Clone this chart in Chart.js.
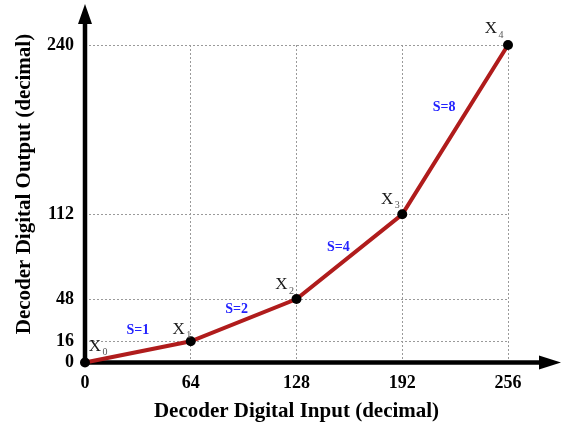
<!DOCTYPE html>
<html><head><meta charset="utf-8">
<script src="https://cdn.jsdelivr.net/npm/chart.js@4/dist/chart.umd.min.js"></script>
<style>html,body{margin:0;padding:0;background:#fff}</style>
</head><body>
<canvas id="c" width="563" height="426"></canvas>
<script>
// ---- data ----
const inputValues = [0, 64, 128, 192, 256];
const outputValues = [0, 16, 48, 112, 240];
const xTickValues = [0, 64, 128, 192, 256];
const yTickValues = [0, 16, 48, 112, 240];
const pointSubscripts = ['0', '1', '2', '3', '4'];
const slopeLabels = ['S=1', 'S=2', 'S=4', 'S=8'];
const xTitle = 'Decoder Digital Input (decimal)';
const yTitle = 'Decoder Digital Output (decimal)';

// ---- styles ----
const SERIF = "'Liberation Serif', 'Times New Roman', serif";
const pointLabelOffsets = [[10, -16], [-12, -12], [-15, -14], [-15, -15], [-17, -16]];
const slopeLabelOffsets = [[0, -22], [-7, -11], [-11, -9], [-11, -22]];

const annotations = {
  id: 'annotations',
  beforeDatasetsDraw(chart) {
    const {ctx} = chart;
    const x0 = chart.scales.x.getPixelForValue(0);
    const y0 = chart.scales.y.getPixelForValue(0);
    ctx.save();
    ctx.strokeStyle = '#000';
    ctx.fillStyle = '#000';
    ctx.lineWidth = 4.5;
    // y axis
    ctx.beginPath(); ctx.moveTo(x0, y0 + 2); ctx.lineTo(x0, 22); ctx.stroke();
    ctx.beginPath(); ctx.moveTo(x0, 4); ctx.lineTo(x0 - 7, 24); ctx.lineTo(x0 + 7, 24); ctx.closePath(); ctx.fill();
    // x axis
    ctx.beginPath(); ctx.moveTo(x0 - 2, y0); ctx.lineTo(541, y0); ctx.stroke();
    ctx.beginPath(); ctx.moveTo(561, y0); ctx.lineTo(539, y0 - 7); ctx.lineTo(539, y0 + 7); ctx.closePath(); ctx.fill();
    // y title
    ctx.translate(25, 184);
    ctx.rotate(-Math.PI / 2);
    ctx.font = "bold 21px " + SERIF;
    ctx.textAlign = 'center';
    ctx.textBaseline = 'middle';
    ctx.fillText(yTitle, 0, 0);
    ctx.restore();
  },
  afterDatasetsDraw(chart) {
    const {ctx} = chart;
    const xs = chart.scales.x, ys = chart.scales.y;
    ctx.save();
    ctx.textAlign = 'center';
    ctx.textBaseline = 'middle';
    inputValues.forEach((v, i) => {
      const px = xs.getPixelForValue(v), py = ys.getPixelForValue(outputValues[i]);
      const [dx, dy] = pointLabelOffsets[i];
      ctx.font = "17px " + SERIF;
      ctx.fillStyle = '#1a1a1a';
      ctx.fillText('X', px + dx, py + dy);
      ctx.font = "10px " + SERIF;
      ctx.fillStyle = '#555';
      ctx.fillText(pointSubscripts[i], px + dx + 10, py + dy + 6);
    });
    ctx.font = "bold 14px " + SERIF;
    ctx.fillStyle = '#2222ff';
    slopeLabels.forEach((t, i) => {
      const mx = (xs.getPixelForValue(inputValues[i]) + xs.getPixelForValue(inputValues[i + 1])) / 2;
      const my = (ys.getPixelForValue(outputValues[i]) + ys.getPixelForValue(outputValues[i + 1])) / 2;
      const [dx, dy] = slopeLabelOffsets[i];
      ctx.fillText(t, mx + dx, my + dy);
    });
    ctx.restore();
  }
};

const gridOpts = {color: '#9a9a9a', lineWidth: 1, drawTicks: false, tickLength: 0};

new Chart(document.getElementById('c'), {
  type: 'line',
  data: {
    datasets: [{
      data: inputValues.map((x, i) => ({x, y: outputValues[i]})),
      borderColor: '#B01C1C',
      borderWidth: 4,
      pointRadius: 5,
      pointBackgroundColor: '#000',
      pointBorderColor: '#000',
      pointBorderWidth: 0,
      tension: 0,
      clip: false
    }]
  },
  options: {
    responsive: false,
    devicePixelRatio: 1,
    animation: false,
    layout: {padding: {top: 45, right: 55, left: 0, bottom: 0}},
    plugins: {legend: {display: false}, tooltip: {enabled: false}},
    scales: {
      x: {
        type: 'linear', min: 0, max: 256,
        afterBuildTicks: s => { s.ticks = xTickValues.map(v => ({value: v})); },
        afterFit: s => { s.height = 63.5; },
        grid: gridOpts,
        border: {display: false, dash: [2, 2]},
        ticks: {font: {family: SERIF, weight: 'bold', size: 18}, color: '#000', padding: 10, maxRotation: 0},
        title: {display: true, text: xTitle, font: {family: SERIF, weight: 'bold', size: 21}, color: '#000', padding: {top: 0, bottom: 2}}
      },
      y: {
        type: 'linear', min: 0, max: 240,
        afterBuildTicks: s => { s.ticks = yTickValues.map(v => ({value: v})); },
        afterFit: s => { s.width = 85; },
        grid: gridOpts,
        border: {display: false, dash: [2, 2]},
        ticks: {font: {family: SERIF, weight: 'bold', size: 18}, color: '#000', padding: 11},
        title: {display: false}
      }
    }
  },
  plugins: [annotations]
});
</script>
</body></html>
